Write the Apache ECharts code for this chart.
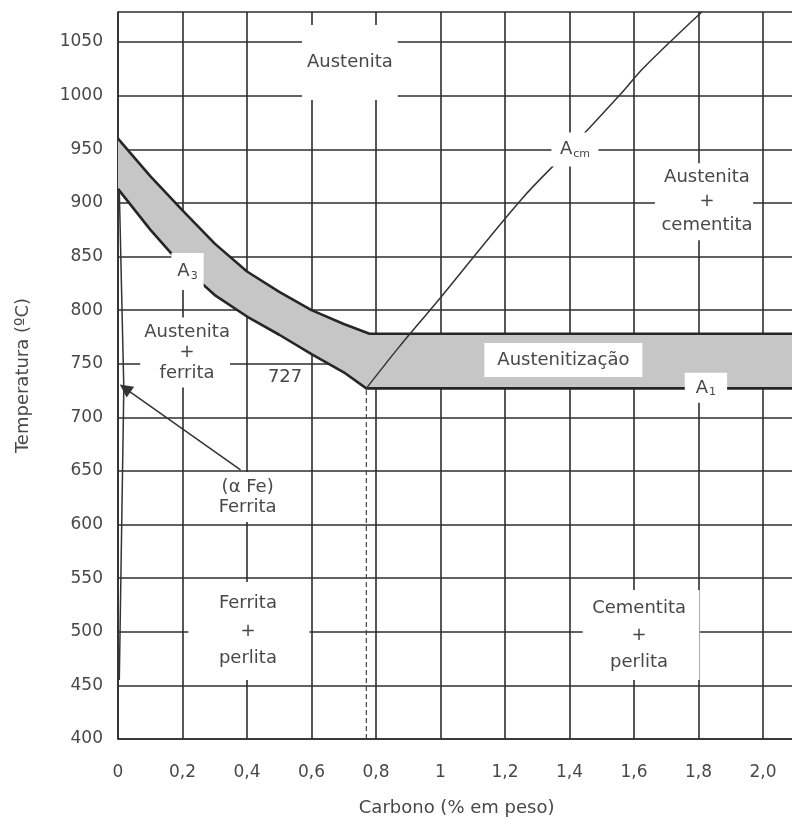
<!DOCTYPE html>
<html>
<head>
<meta charset="utf-8">
<script src="https://cdn.jsdelivr.net/npm/echarts@6/dist/echarts.min.js"></script>
<style>
html,body{margin:0;padding:0;background:#fff;}
#chart{width:792px;height:818px;}
</style>
</head>
<body>
<div id="chart"></div>
<script>
// ---- tick labels ----
const xTickLabels = ['0','0,2','0,4','0,6','0,8','1','1,2','1,4','1,6','1,8','2,0'];
const yTickLabels = ['400','450','500','550','600','650','700','750','800','850','900','950','1000','1050'];

// ---- phase boundaries (carbon %, temperature °C) ----
// upper limit of austenitizing band (A3 + ~50 °C, then horizontal)
const upperC = [0, 0.1, 0.2, 0.3, 0.4, 0.5, 0.6, 0.7, 0.78, 2.1];
const upperT = [960, 925, 893, 862, 836, 817, 800, 787, 778, 778];
// A3 line then A1 (727 °C)
const lowerC = [0, 0.1, 0.2, 0.3, 0.4, 0.5, 0.6, 0.7, 0.77, 2.1];
const lowerT = [913, 875, 841, 814, 794, 777, 759, 742, 727, 727];
// Acm line
const acmC = [0.77, 0.87, 0.99, 1.25, 1.40, 1.56, 1.63, 1.81];
const acmT = [727, 765, 808, 903, 950, 1002, 1026, 1078];
// alpha-ferrite boundary near 0 % C
const solvusC = [0.004, 0.018, 0.004];
const solvusT = [912, 727, 455];
// eutectoid composition vertical
const eutC = [0.77, 0.77];
const eutT = [400, 727];
// arrow pointing to alpha ferrite
const arrowFrom = [0.38, 651];
const arrowTo = [0.022, 727];

// ---- region labels ----
const regionText = ['Austenita', 'Austenita\n+\ncementita', 'Austenita\n+\nferrita', '(\u03b1 Fe)\nFerrita',
                    'Ferrita\n+\nperlita', 'Cementita\n+\nperlita', 'Austenitiza\u00e7\u00e3o', '727'];
const regionC = [0.719, 1.817, 0.208, 0.402, 0.406, 1.622, 1.381, 0.518];
const regionT = [1031, 901, 760.5, 625.7, 500.7, 497, 753.5, 737.6];

// ---- line labels (A with subscript) ----
const lineMain = ['A', 'A', 'A'];
const lineSub = ['3', 'cm', '1'];
const lineC = [0.2155, 1.417, 1.823];
const lineT = [836, 949.7, 727.5];

// ================= styling / building =================
const FONT = 'DejaVu Sans';
const TXT = '#484848';
const GRID = '#2e2e2e';

const zip = (a, b) => a.map((v, i) => [v, b[i]]);

const regionStyle = [
  {lh: 21,   pad: [34.5, 5, 19.5, 5]},
  {lh: 24,   pad: [5, 0.5, 0, 6.5]},
  {lh: 20.5, pad: [6.75, 0, 1.75, 4]},
  {lh: 20,   pad: [6, 13, 4, 13]},
  {lh: 27.5, pad: [9.25, 32.5, 6.25, 30.5]},
  {lh: 27,   pad: [6.2, 13.5, 2.8, 9.5]},
  {lh: 21,   pad: [8.5, 13, 4.5, 13]},
  {lh: 21,   pad: 0, noBg: true}
];
const lineLabelPad = [[8.5, 6, 8.5, 6], [7, 8.5, 7, 8.5], [5, 11, 5, 11]];

const labelData = [];
regionText.forEach((t, i) => {
  const s = regionStyle[i];
  labelData.push({
    value: [regionC[i], regionT[i]],
    label: {
      show: true, position: 'inside', formatter: t, opacity: 1,
      fontFamily: FONT, fontSize: 18, color: TXT, lineHeight: s.lh,
      align: 'center', verticalAlign: 'middle',
      backgroundColor: s.noBg ? 'transparent' : '#ffffff', padding: s.pad
    }
  });
});
lineMain.forEach((m, i) => {
  labelData.push({
    value: [lineC[i], lineT[i]],
    label: {
      show: true, position: 'inside', opacity: 1,
      formatter: '{a|' + m + '}{s|' + lineSub[i] + '}',
      backgroundColor: '#ffffff', padding: lineLabelPad[i],
      align: 'center', verticalAlign: 'middle',
      rich: {
        a: {fontFamily: FONT, fontSize: 18, lineHeight: 20, color: TXT},
        s: {fontFamily: FONT, fontSize: 11, lineHeight: 1, verticalAlign: 'bottom', color: TXT, padding: [0, 0, 0, 1]}
      }
    }
  });
});

const chart = echarts.init(document.getElementById('chart'), null, {renderer: 'canvas'});
chart.setOption({
  animation: false,
  backgroundColor: '#fff',
  grid: {left: 118, top: 12, right: -3.25, bottom: 79, outerBoundsMode: 'none', containLabel: false},
  xAxis: {
    type: 'value', min: 0, max: 2.1, interval: 0.2,
    axisLine: {show: true, onZero: false, lineStyle: {color: GRID, width: 1.6}},
    axisTick: {show: false},
    splitLine: {show: true, lineStyle: {color: GRID, width: 1.6}},
    axisLabel: {
      margin: 25, fontFamily: FONT, fontSize: 17, color: TXT,
      formatter: v => {
        const k = Math.round(v / 0.2);
        return (Math.abs(v - k * 0.2) < 1e-6 && k < xTickLabels.length) ? xTickLabels[k] : '';
      }
    },
    name: 'Carbono (% em peso)', nameLocation: 'middle', nameGap: 60,
    nameTextStyle: {fontFamily: FONT, fontSize: 18, color: TXT}
  },
  yAxis: {
    type: 'value', min: 400, max: 1078, interval: 50,
    axisLine: {show: true, onZero: false, lineStyle: {color: GRID, width: 1.6}},
    axisTick: {show: false},
    splitLine: {show: true, lineStyle: {color: GRID, width: 1.6}},
    axisLabel: {
      margin: 15, fontFamily: FONT, fontSize: 17, color: TXT,
      formatter: v => {
        const k = Math.round((v - 400) / 50);
        return (Math.abs(v - 400 - k * 50) < 1e-6 && k < yTickLabels.length) ? yTickLabels[k] : '';
      }
    },
    name: 'Temperatura (\u00baC)', nameLocation: 'middle', nameGap: 86,
    nameTextStyle: {fontFamily: FONT, fontSize: 18, color: TXT}
  },
  series: [
    {
      type: 'custom', z: 2, silent: true,
      data: [[0, 900]],
      renderItem: (params, api) => {
        const pts = [];
        for (let i = 0; i < upperC.length; i++) pts.push(api.coord([upperC[i], upperT[i]]));
        for (let i = lowerC.length - 1; i >= 0; i--) pts.push(api.coord([lowerC[i], lowerT[i]]));
        return {type: 'polygon', shape: {points: pts}, style: {fill: '#c6c6c6', stroke: null}};
      }
    },
    {type: 'line', z: 3, silent: true, symbol: 'none', data: zip(upperC, upperT),
     lineStyle: {color: '#262626', width: 2.6}},
    {type: 'line', z: 3, silent: true, symbol: 'none', data: zip(lowerC, lowerT),
     lineStyle: {color: '#262626', width: 2.6}},
    {type: 'line', z: 3, silent: true, symbol: 'none', smooth: 0.35, data: zip(acmC, acmT),
     lineStyle: {color: '#333', width: 1.5}},
    {type: 'line', z: 3, silent: true, symbol: 'none', data: zip(solvusC, solvusT),
     lineStyle: {color: '#333', width: 1.5}},
    {type: 'line', z: 3, silent: true, symbol: 'none', data: zip(eutC, eutT),
     lineStyle: {color: '#444', width: 1.2, type: [5, 3]},
     markLine: {
       silent: true, symbol: ['none', 'triangle'], symbolSize: 13,
       label: {show: false},
       lineStyle: {color: '#333', width: 1.5, type: 'solid'},
       data: [[{coord: arrowFrom}, {coord: arrowTo}]]
     }},
    {type: 'scatter', z: 10, silent: true, symbolSize: 0, itemStyle: {opacity: 1},
     emphasis: {disabled: true}, data: labelData}
  ]
});
</script>
</body>
</html>
